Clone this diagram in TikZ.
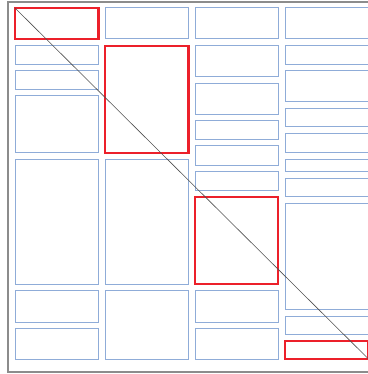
\documentclass[tikz,border=0pt]{standalone}
\usepackage{tikz}
\definecolor{boxblue}{RGB}{143,172,216}
\definecolor{boxred}{RGB}{236,32,42}
\definecolor{framegray}{RGB}{140,140,140}
\definecolor{diaggray}{RGB}{80,80,80}
\tikzset{
  cell/.style={draw=boxblue, line width=1pt, inner sep=0pt, outer sep=0pt, anchor=north west},
  hot/.style={draw=boxred, line width=2.6pt, inner sep=0pt, outer sep=0pt, anchor=north west},
  frame/.style={draw=framegray, line width=1.2pt},
  diag/.style={draw=diaggray, line width=0.6pt}
}
\newcommand\bx[6]{\node[#6, minimum width={(#4-#2)*1pt}, minimum height={(#5-#3)*1pt}] (#1) at (#2,#3) {};}
\begin{document}
\begin{tikzpicture}[x=1pt,y=-1pt]
\useasboundingbox (0,0) rectangle (367,374);
\path[frame] (8,2) rectangle (380,372);
% column 1
\bx{r1}{15}{8}{98.5}{39}{hot}
\bx{a2}{15}{46}{98.5}{65}{cell}
\bx{a3}{15}{71}{98.5}{90}{cell}
\bx{a4}{15}{96}{98.5}{152}{cell}
\bx{a5}{15}{159}{98.5}{284}{cell}
\bx{a6}{15}{290}{98.5}{322}{cell}
\bx{a7}{15}{328}{98.5}{359}{cell}
% column 2
\bx{b1}{105}{8}{188.5}{39}{cell}
\bx{r2}{105}{46}{188.5}{153}{hot}
\bx{b3}{105}{159}{188.5}{284}{cell}
\bx{b4}{105}{290}{188.5}{359}{cell}
% column 3
\bx{c1}{195}{8}{278}{39}{cell}
\bx{c2}{195}{46}{278}{77}{cell}
\bx{c3}{195}{84}{278}{115}{cell}
\bx{c4}{195}{121}{278}{140}{cell}
\bx{c5}{195}{146}{278}{165}{cell}
\bx{c6}{195}{171}{278}{190}{cell}
\bx{r3}{195}{197}{278}{284}{hot}
\bx{c8}{195}{290}{278}{322}{cell}
\bx{c9}{195}{328}{278}{359}{cell}
% column 4
\bx{d1}{285}{8}{368.5}{39}{cell}
\bx{d2}{285}{46}{368.5}{65}{cell}
\bx{d3}{285}{71}{368.5}{102}{cell}
\bx{d4}{285}{109}{368.5}{127}{cell}
\bx{d5}{285}{134}{368.5}{152}{cell}
\bx{d6}{285}{159}{368.5}{171}{cell}
\bx{d7}{285}{178}{368.5}{196}{cell}
\bx{d8}{285}{203}{368.5}{309}{cell}
\bx{d9}{285}{316}{368.5}{334}{cell}
\bx{r4}{285}{341}{368.5}{359}{hot}
\draw[diag] (r1.north west) -- (r4.south east);
\end{tikzpicture}
\end{document}
